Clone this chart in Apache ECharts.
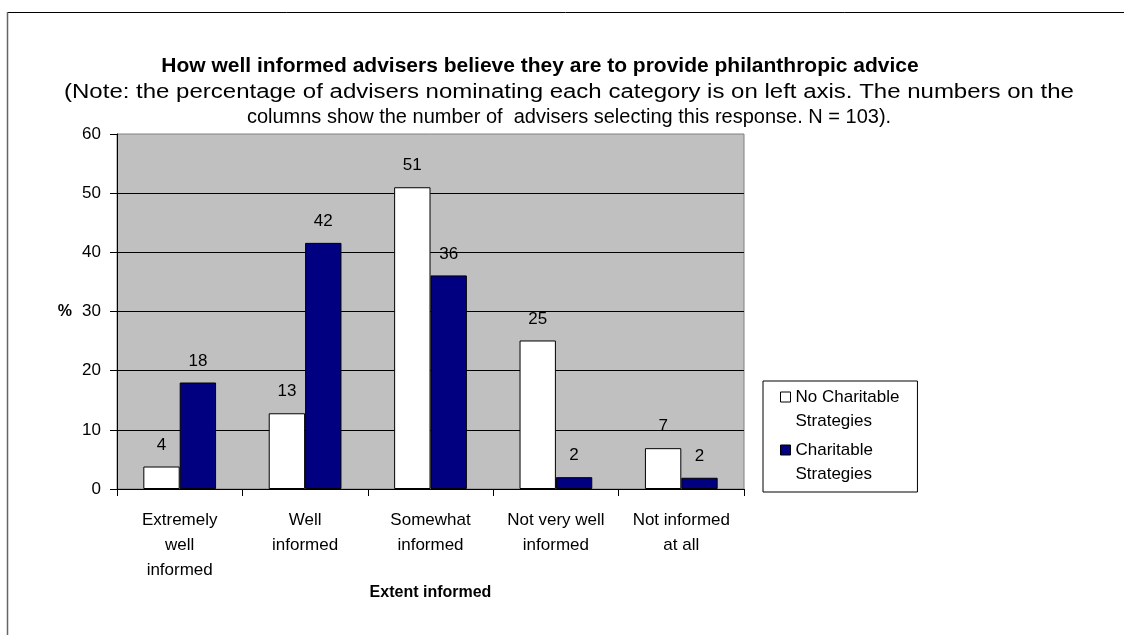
<!DOCTYPE html>
<html><head><meta charset="utf-8">
<script src="https://cdn.jsdelivr.net/npm/echarts@6/dist/echarts.min.js"></script>
<style>html,body{margin:0;padding:0;background:#fff}#c{width:1124px;height:635px}</style>
</head><body><div id="c"></div>
<script>
// ---- data ----
const titleText = 'How well informed advisers believe they are to provide philanthropic advice';
const noteLine1 = '(Note: the percentage of advisers nominating each category is on left axis. The numbers on the';
const noteLine2 = 'columns show the number of  advisers selecting this response. N = 103).';
const categories = ['Extremely\nwell\ninformed', 'Well\ninformed', 'Somewhat\ninformed', 'Not very well\ninformed', 'Not informed\nat all'];
const seriesNames = ['No Charitable\nStrategies', 'Charitable\nStrategies'];
const noCharitablePct = [3.8, 12.8, 51.0, 25.1, 6.9];
const charitablePct = [18.0, 41.6, 36.1, 2.0, 1.9];
const noCharitableCount = [4, 13, 51, 25, 7];
const charitableCount = [18, 42, 36, 2, 2];
const yMin = 0, yMax = 60, yStep = 10;
const xAxisTitle = 'Extent informed';
const yAxisTitle = '%';

// ---- chart ----
const FONT = '"Liberation Sans", Arial, sans-serif';
const chart = echarts.init(document.getElementById('c'), null, {renderer: 'canvas'});
const legendIcon = 'path://M0,0L10,0L10,10L0,10Z M0,34L0,34';
const barLabel = (counts) => ({
  show: true, position: 'top', distance: 13,
  formatter: p => String(counts[p.dataIndex]),
  fontFamily: FONT, fontSize: 17, color: '#000'
});
chart.setOption({
  animation: false,
  backgroundColor: '#fff',
  textStyle: {fontFamily: FONT},
  grid: {left: 117, right: 380, top: 134, bottom: 146, show: true,
         backgroundColor: '#C0C0C0', borderColor: '#808080', borderWidth: 1},
  graphic: [
    {type: 'line', shape: {x1: 7, y1: 12.5, x2: 1124, y2: 12.5}, style: {stroke: '#000', lineWidth: 1}},
    {type: 'line', shape: {x1: 7.5, y1: 12, x2: 7.5, y2: 635}, style: {stroke: '#666', lineWidth: 1.5}},
    {type: 'text', x: 540, y: 66, style: {text: titleText, font: 'bold 21px ' + FONT, fill: '#000', textAlign: 'center', textVerticalAlign: 'middle'}},
    {type: 'text', x: 569, y: 92, scaleX: 1.2, style: {text: noteLine1, font: '20px ' + FONT, fill: '#000', textAlign: 'center', textVerticalAlign: 'middle'}},
    {type: 'text', x: 569, y: 117, style: {text: noteLine2, font: '20px ' + FONT, fill: '#000', textAlign: 'center', textVerticalAlign: 'middle'}}
  ],
  legend: {
    orient: 'vertical', left: 763, top: 381,
    padding: [4, 18, 6, 17], itemGap: 5, itemWidth: 10, itemHeight: 34, itemTextGap: 7,
    borderColor: '#000', borderWidth: 1, backgroundColor: '#fff',
    selectedMode: false,
    textStyle: {fontFamily: FONT, fontSize: 17, lineHeight: 24, color: '#000'},
    data: [
      {name: seriesNames[0], icon: legendIcon, itemStyle: {color: '#fff', borderColor: '#000', borderWidth: 1}},
      {name: seriesNames[1], icon: legendIcon, itemStyle: {color: '#000080', borderColor: '#000', borderWidth: 1}}
    ]
  },
  xAxis: {
    type: 'category', data: categories,
    axisLine: {lineStyle: {color: '#000', width: 1}},
    axisTick: {show: true, length: 7, lineStyle: {color: '#000'}},
    axisLabel: {fontFamily: FONT, fontSize: 17, lineHeight: 25, color: '#000', margin: 19, interval: 0},
    name: xAxisTitle, nameLocation: 'middle', nameGap: 96, nameMoveOverlap: false,
    nameTextStyle: {fontFamily: FONT, fontSize: 16, fontWeight: 'bold', color: '#000'},
    splitLine: {show: false}
  },
  yAxis: {
    type: 'value', min: yMin, max: yMax, interval: yStep,
    axisLine: {show: true, lineStyle: {color: '#000', width: 1}},
    axisTick: {show: true, length: 7, lineStyle: {color: '#000'}},
    axisLabel: {fontFamily: FONT, fontSize: 17, color: '#000', margin: 16},
    splitLine: {show: true, showMaxLine: false, lineStyle: {color: '#000', width: 1}},
    name: yAxisTitle, nameLocation: 'middle', nameRotate: 0, nameGap: 45, nameMoveOverlap: false,
    nameTextStyle: {fontFamily: FONT, fontSize: 16, fontWeight: 'bold', color: '#000'}
  },
  series: [
    {type: 'bar', name: seriesNames[0], data: noCharitablePct, barGap: '0%', barCategoryGap: '42%',
     itemStyle: {color: '#fff', borderColor: '#000', borderWidth: 1}, label: barLabel(noCharitableCount)},
    {type: 'bar', name: seriesNames[1], data: charitablePct, barGap: '0%', barCategoryGap: '42%',
     itemStyle: {color: '#000080', borderColor: '#000', borderWidth: 1}, label: barLabel(charitableCount)}
  ]
});
</script></body></html>
